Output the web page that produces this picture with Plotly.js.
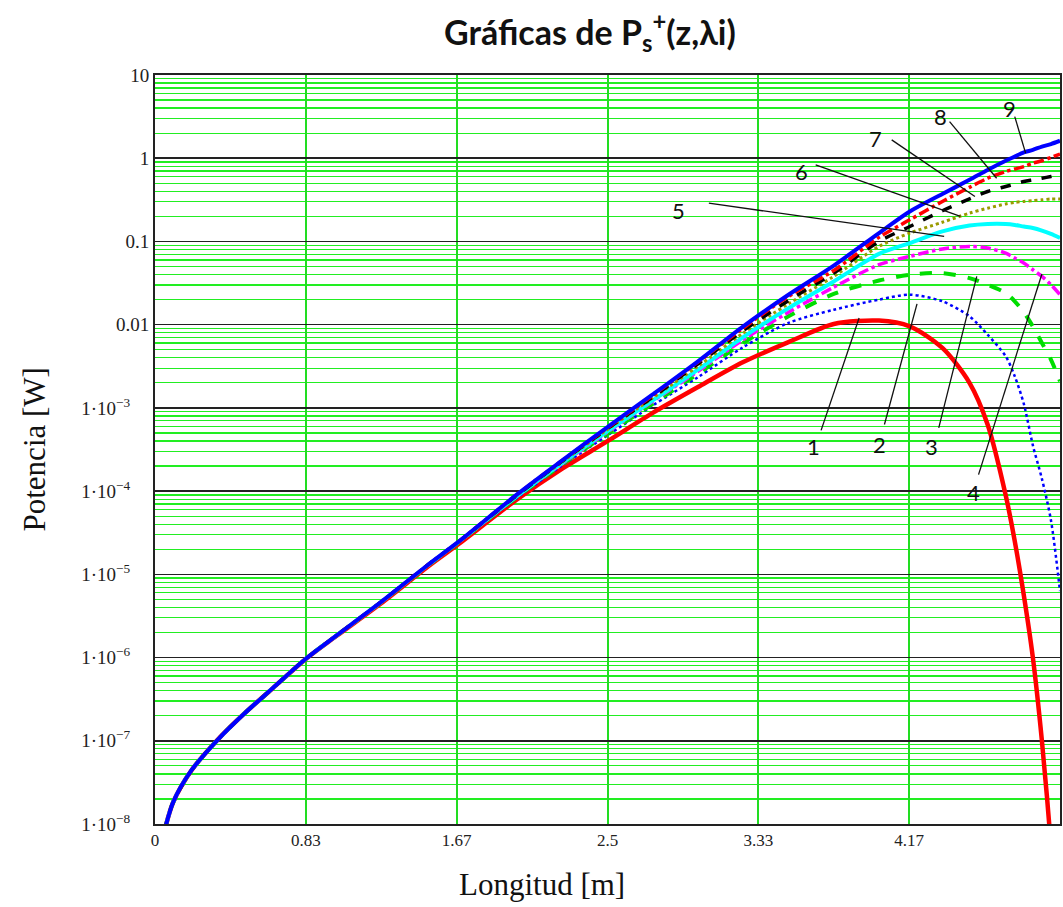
<!DOCTYPE html>
<html>
<head>
<meta charset="utf-8">
<script src="https://cdn.plot.ly/plotly-3.0.1.min.js"></script>
<style>html,body{margin:0;padding:0;background:#fff;}#chart{width:1063px;height:907px;}</style>
</head>
<body>
<div id="chart"></div>
<script>
// Longitud [m]
const z = [0.05, 0.1, 0.2, 0.35, 0.5, 0.65, 0.83, 1.0, 1.25, 1.5, 1.67,
           2.0, 2.25, 2.5, 2.75, 3.0, 3.25, 3.5, 3.75, 4.0, 4.17, 4.35, 4.5, 4.6, 4.7, 4.75, 4.8, 4.85, 4.9, 4.95, 5.0];

// Potencia [W] for each curve i = 1..9
const P1 = [7.9e-9, 1.82e-8, 4.37e-8, 1.05e-7, 2.19e-7, 4.27e-7, 9.5e-7, 1.8e-6, 4.5e-6, 1.2e-5, 2.25e-5,
            7.94e-5, 1.86e-4, 3.98e-4, 8.71e-4, 1.78e-3, 3.55e-3, 6.17e-3, 0.0102, 0.0112, 9.55e-3, 5.25e-3, 2.0e-3, 6.31e-4, 8.91e-5, 2.51e-5, 5.62e-6, 1.0e-6, 1.0e-7, 5.6e-9, 1.6e-10];
const P2 = [7.9e-9, 1.82e-8, 4.37e-8, 1.05e-7, 2.19e-7, 4.27e-7, 9.55e-7, 1.82e-6, 4.6e-6, 1.23e-5, 2.33e-5,
            8.32e-5, 2.04e-4, 4.68e-4, 1.07e-3, 2.34e-3, 5.37e-3, 0.0105, 0.0151, 0.0200, 0.0229, 0.0191, 0.0126, 7.59e-3, 4.17e-3, 2.40e-3, 1.12e-3, 3.55e-4, 1.41e-4, 4.47e-5, 6.3e-6];
const P3 = [7.9e-9, 1.82e-8, 4.37e-8, 1.05e-7, 2.19e-7, 4.27e-7, 9.55e-7, 1.82e-6, 4.62e-6, 1.24e-5, 2.35e-5,
            8.51e-5, 2.09e-4, 4.90e-4, 1.12e-3, 2.57e-3, 6.03e-3, 0.0126, 0.0234, 0.0339, 0.0398, 0.0417, 0.0363, 0.0302, 0.0240, 0.0191, 0.0141, 9.55e-3, 6.03e-3, 3.80e-3, 2.09e-3];
const P4 = [7.9e-9, 1.82e-8, 4.37e-8, 1.05e-7, 2.19e-7, 4.27e-7, 9.55e-7, 1.82e-6, 4.64e-6, 1.25e-5, 2.37e-5,
            8.71e-5, 2.14e-4, 5.13e-4, 1.20e-3, 2.75e-3, 6.61e-3, 0.0141, 0.0282, 0.0525, 0.0661, 0.0813, 0.0871, 0.0832, 0.0724, 0.0631, 0.0550, 0.0457, 0.0380, 0.0302, 0.0229];
const P5 = [7.9e-9, 1.82e-8, 4.37e-8, 1.05e-7, 2.19e-7, 4.27e-7, 9.55e-7, 1.82e-6, 4.66e-6, 1.25e-5, 2.38e-5,
            8.71e-5, 2.19e-4, 5.25e-4, 1.23e-3, 2.88e-3, 7.08e-3, 0.0158, 0.0331, 0.0708, 0.0955, 0.132, 0.155, 0.162, 0.162, 0.158, 0.151, 0.145, 0.135, 0.123, 0.110];
const P6 = [7.9e-9, 1.82e-8, 4.37e-8, 1.05e-7, 2.19e-7, 4.27e-7, 9.55e-7, 1.82e-6, 4.67e-6, 1.26e-5, 2.39e-5,
            8.91e-5, 2.24e-4, 5.50e-4, 1.32e-3, 3.16e-3, 7.94e-3, 0.0178, 0.0380, 0.0871, 0.126, 0.170, 0.219, 0.251, 0.282, 0.295, 0.302, 0.309, 0.316, 0.324, 0.324];
const P7 = [7.9e-9, 1.82e-8, 4.37e-8, 1.05e-7, 2.19e-7, 4.27e-7, 9.55e-7, 1.82e-6, 4.68e-6, 1.26e-5, 2.40e-5,
            8.91e-5, 2.29e-4, 5.62e-4, 1.35e-3, 3.39e-3, 8.51e-3, 0.0195, 0.0417, 0.100, 0.151, 0.234, 0.324, 0.398, 0.457, 0.490, 0.525, 0.550, 0.575, 0.603, 0.631];
const P8 = [7.9e-9, 1.82e-8, 4.37e-8, 1.05e-7, 2.19e-7, 4.27e-7, 9.55e-7, 1.82e-6, 4.68e-6, 1.26e-5, 2.40e-5,
            9.12e-5, 2.34e-4, 5.75e-4, 1.41e-3, 3.55e-3, 9.12e-3, 0.0219, 0.0447, 0.112, 0.182, 0.302, 0.447, 0.575, 0.692, 0.741, 0.794, 0.871, 0.933, 1.023, 1.122];
const P9 = [7.9e-9, 1.82e-8, 4.37e-8, 1.05e-7, 2.19e-7, 4.27e-7, 9.55e-7, 1.82e-6, 4.68e-6, 1.26e-5, 2.40e-5,
            9.12e-5, 2.34e-4, 5.89e-4, 1.45e-3, 3.63e-3, 9.55e-3, 0.0229, 0.0513, 0.126, 0.229, 0.372, 0.550, 0.724, 0.933, 1.047, 1.175, 1.259, 1.380, 1.479, 1.622];

const curveLabels = ['1','2','3','4','5','6','7','8','9'];
const xTickVals = [0, 0.8333, 1.6667, 2.5, 3.3333, 4.1667, 5];
const xTickText = ['0', '0.83', '1.67', '2.5', '3.33', '4.17', '5'];
const yTickVals = [10, 1, 0.1, 0.01, 1e-3, 1e-4, 1e-5, 1e-6, 1e-7, 1e-8];
const pad = '<span style="color:rgba(0,0,0,0)">00</span>';
const yTickText = ['10', '1', '0.1', '0.01', '1·10<sup>−3</sup>' + pad, '1·10<sup>−4</sup>' + pad,
                   '1·10<sup>−5</sup>' + pad, '1·10<sup>−6</sup>' + pad,
                   '1·10<sup>−7</sup>' + pad, '1·10<sup>−8</sup>' + pad];

// curve number labels [x, P] and their leader lines (tail -> tip), [x, P]
const labelPos   = [[3.64,3.47e-4],[4.00,3.63e-4],[4.29,3.47e-4],[4.52,9.55e-5],[2.89,0.234],[3.57,0.692],[3.98,1.74],[4.34,3.16],[4.72,3.98]];
const leaderTail = [[3.68,5.37e-4],[4.03,6.31e-4],[4.33,5.75e-4],[4.55,1.58e-4],[3.06,0.288],[3.65,0.832],[4.07,1.66],[4.39,2.75],[4.75,3.16]];
const leaderTip  = [[3.89,0.0120],[4.21,0.0178],[4.54,0.0380],[4.90,0.0407],[4.36,0.115],[4.45,0.200],[4.53,0.347],[4.65,0.575],[4.81,1.15]];

const series = [P1,P2,P3,P4,P5,P6,P7,P8,P9];
const styles = [
  {color:'#ff0000', width:4.5, dash:'solid'},
  {color:'#0000ff', width:2.5, dash:'dot'},
  {color:'#00dd00', width:4, dash:'dash'},
  {color:'#ff00ff', width:3.5, dash:'dashdot'},
  {color:'#00ffff', width:4, dash:'solid'},
  {color:'#9a9a00', width:3, dash:'dot'},
  {color:'#000000', width:3.5, dash:'dash'},
  {color:'#ff0000', width:3.5, dash:'dashdot'},
  {color:'#0000ff', width:4, dash:'solid'}
];

const traces = series.map((s,i)=>({
  x: z, y: s, type:'scatter', mode:'lines', name: curveLabels[i],
  line: Object.assign({shape:'spline', smoothing:0.8}, styles[i]),
  hoverinfo:'x+y'
}));

const L = 155, R = 1060, T = 75, B = 824;

const shapes = leaderTail.map((t,i)=>({
  type:'line', xref:'x', yref:'y',
  x0:t[0], y0:t[1], x1:leaderTip[i][0], y1:leaderTip[i][1],
  line:{color:'#111', width:1.3}
}));

const annotations = labelPos.map((p,i)=>({
  x:p[0], y:Math.log10(p[1]), xref:'x', yref:'y',
  text: curveLabels[i], showarrow:false,
  font:{family:'Lato, "Open Sans", sans-serif', size:22, color:'#111'}
}));
annotations.push({
  text:'Potencia [W]', xref:'paper', yref:'paper', x:-0.1326, y:0.5, xanchor:'center', yanchor:'middle',
  textangle:-90, showarrow:false,
  font:{family:'"Liberation Serif", "Times New Roman", serif', size:31, color:'#111'}
});
annotations.push({
  text:'Longitud [m]', xref:'paper', yref:'paper', x:0.428, y:-0.0814, xanchor:'center', yanchor:'middle',
  showarrow:false, font:{family:'"Liberation Serif", "Times New Roman", serif', size:31, color:'#111'}
});

const layout = {
  width:1063, height:907,
  margin:{l:L, r:1063-R, t:T, b:907-B},
  paper_bgcolor:'#fff', plot_bgcolor:'#fff',
  showlegend:false,
  title:{text:'<b>Gráficas de P<sub>s</sub><sup>+</sup>(z,λi)</b>', xref:'container', yref:'container',
         x:0.555, y:0.964, xanchor:'center', yanchor:'middle',
         font:{family:'Lato, "Open Sans", sans-serif', size:34, color:'#111'}},
  xaxis:{range:[0,5], tickmode:'array', tickvals:xTickVals, ticktext:xTickText,
         showgrid:true, gridcolor:'#22dd22', gridwidth:2, zeroline:false,
         showline:true, linecolor:'#222', linewidth:2, mirror:true, ticks:'',
         tickfont:{family:'"Liberation Serif", "Times New Roman", serif', size:17, color:'#222'}},
  yaxis:{type:'log', range:[-8,1], tickmode:'array', tickvals:yTickVals, ticktext:yTickText,
         showgrid:true, gridcolor:'#222', gridwidth:1.5, zeroline:false,
         showline:true, linecolor:'#222', linewidth:2, mirror:true, ticks:'',
         minor:{dtick:'D1', showgrid:true, gridcolor:'#22ee22', gridwidth:1.3, ticks:''},
         tickfont:{family:'"Liberation Serif", "Times New Roman", serif', size:19, color:'#222'}},
  shapes: shapes,
  annotations: annotations
};

Plotly.newPlot('chart', traces, layout, {staticPlot:true});
</script>
</body>
</html>
